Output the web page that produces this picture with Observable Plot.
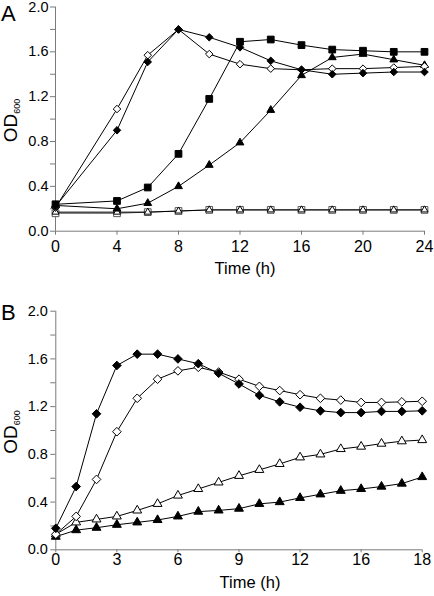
<!DOCTYPE html>
<html><head><meta charset="utf-8">
<script src="https://cdn.jsdelivr.net/npm/d3@7"></script>
<script src="https://cdn.jsdelivr.net/npm/@observablehq/plot@0.6"></script>
<style>
body{margin:0;background:#fff;}
#chart{position:relative;width:434px;height:596px;font-family:"Liberation Sans",Arial,sans-serif;}
#chart svg{position:absolute;left:0;}
</style></head><body><div id="chart"></div>
<script>
// ---------- Panel A data ----------
const timesA = [0, 4, 6, 8, 10, 12, 14, 16, 18, 20, 22, 24];
const aOpenDiamond   = [0.21, 1.09, 1.57, 1.80, 1.58, 1.49, 1.45, 1.44, 1.45, 1.45, 1.46, 1.47];
const aFilledDiamond = [0.22, 0.90, 1.51, 1.80, 1.73, 1.64, 1.52, 1.44, 1.40, 1.41, 1.42, 1.42];
const aFilledSquare  = [0.24, 0.27, 0.39, 0.69, 1.18, 1.69, 1.71, 1.66, 1.62, 1.61, 1.60, 1.60];
const aFilledTriangle= [0.23, 0.20, 0.25, 0.40, 0.59, 0.79, 1.08, 1.39, 1.55, 1.58, 1.53, 1.48];
const aOpenSquare    = [0.16, 0.16, 0.17, 0.18, 0.19, 0.19, 0.19, 0.19, 0.19, 0.19, 0.19, 0.19];
const aOpenTriangle  = [0.17, 0.17, 0.17, 0.18, 0.19, 0.19, 0.19, 0.19, 0.19, 0.19, 0.19, 0.19];
const aXTicks = [0, 4, 8, 12, 16, 20, 24];
const aXTickLabels = ["0", "4", "8", "12", "16", "20", "24"];

// ---------- Panel B data ----------
const timesB = [0,1,2,3,4,5,6,7,8,9,10,11,12,13,14,15,16,17,18];
const bFilledDiamond = [0.18,0.53,1.14,1.545,1.64,1.64,1.60,1.56,1.48,1.39,1.295,1.24,1.195,1.165,1.15,1.15,1.16,1.16,1.165];
const bOpenDiamond   = [0.13,0.28,0.59,0.99,1.27,1.43,1.50,1.53,1.49,1.43,1.37,1.335,1.30,1.27,1.255,1.235,1.235,1.24,1.245];
const bOpenTriangle  = [0.13,0.23,0.255,0.28,0.33,0.385,0.455,0.51,0.565,0.62,0.67,0.72,0.775,0.80,0.845,0.865,0.89,0.91,0.92];
const bFilledTriangle= [0.11,0.165,0.185,0.21,0.23,0.25,0.28,0.32,0.33,0.345,0.385,0.40,0.435,0.465,0.495,0.51,0.53,0.555,0.61];
const bXTicks = [0, 3, 6, 9, 12, 15, 18];
const bXTickLabels = ["0", "3", "6", "9", "12", "16", "18"];

// ---------- shared ----------
const yTicks = [0, 0.2, 0.4, 0.6, 0.8, 1.0, 1.2, 1.4, 1.6, 1.8, 2.0];
const yTickLabels = ["0.0", "", "0.4", "", "0.8", "", "1.2", "", "1.6", "", "2.0"];
const xLabel = "Time (h)";
const yLabelMain = "OD";
const yLabelSub = "600";
const FONT = '"Liberation Sans", Arial, sans-serif';
const AXIS = "#7a7a7a";

function rows(times, vals) { return times.map((t, i) => ({t, v: vals[i]})); }

function seriesMarks(times, vals, sym, r, open, stroke = "black") {
  const d = rows(times, vals);
  return [
    Plot.line(d, {x: "t", y: "v", stroke, strokeWidth: 1}),
    Plot.dot(d, {x: "t", y: "v", symbol: sym, r, fill: open ? "white" : "black", stroke, strokeWidth: 1})
  ];
}

function panel(cfg) {
  const svg = Plot.plot({
    width: 434, height: cfg.height,
    marginLeft: cfg.ml, marginRight: cfg.mr, marginTop: cfg.mt, marginBottom: cfg.mb,
    style: {fontFamily: FONT, background: "transparent", color: "black", overflow: "visible"},
    x: {domain: cfg.xDomain},
    y: {domain: [0, 2]},
    marks: [
      Plot.axisX({ticks: cfg.xTicks, tickFormat: d => cfg.xTickLabels[cfg.xTicks.indexOf(d)],
        tickSize: cfg.xTickSize, tickPadding: cfg.xTickPad, fontSize: 16, stroke: AXIS, fill: "black", label: null}),
      Plot.axisY({ticks: yTicks, tickFormat: d => yTickLabels[yTicks.indexOf(d)],
        tickSize: 5, tickPadding: cfg.yTickPad, fontSize: 14.5, stroke: AXIS, fill: "black", label: null}),
      Plot.ruleY([0], {stroke: AXIS}),
      Plot.ruleX([0], {y1: 0, y2: 2, stroke: AXIS}),
      ...cfg.series.flatMap(s => seriesMarks(s.times, s.vals, s.sym, s.r, s.open, s.stroke))
    ]
  });
  svg.style.top = cfg.top + "px";
  const s = d3.select(svg);
  s.append("text").attr("x", 1).attr("y", cfg.letterY).attr("text-anchor", "start")
    .attr("font-size", 22).attr("font-family", FONT).text(cfg.letter);
  const cy = (cfg.mt + (cfg.height - cfg.mb)) / 2;
  const yl = s.append("text").attr("transform", `translate(17,${cy + 2}) rotate(-90)`)
    .attr("text-anchor", "middle").attr("font-size", 19).attr("font-family", FONT);
  yl.append("tspan").text(yLabelMain);
  yl.append("tspan").attr("font-size", 9).attr("dy", 3).text(yLabelSub);
  s.append("text").attr("x", cfg.xLabelX).attr("y", cfg.xLabelY).attr("text-anchor", "middle")
    .attr("font-size", 16.5).attr("font-family", FONT).text(xLabel);
  document.getElementById("chart").appendChild(svg);
}

panel({
  top: 0, height: 290, ml: 55, mr: 10, mt: 6.5, mb: 59.3, xDomain: [0, 24],
  xTicks: aXTicks, xTickLabels: aXTickLabels, xTickSize: 4, xTickPad: 5, yTickPad: 2,
  letter: "A", letterY: 21, xLabelX: 245, xLabelY: 274,
  series: [
    {times: timesA, vals: aOpenSquare, sym: "square", r: 3.8, open: true, stroke: "#555"},
    {times: timesA, vals: aOpenTriangle, sym: "triangle", r: 2.6, open: true},
    {times: timesA, vals: aFilledTriangle, sym: "triangle", r: 2.9, open: false},
    {times: timesA, vals: aFilledSquare, sym: "square", r: 3.8, open: false},
    {times: timesA, vals: aOpenDiamond, sym: "diamond2", r: 3.4, open: true},
    {times: timesA, vals: aFilledDiamond, sym: "diamond2", r: 3.4, open: false}
  ]
});

panel({
  top: 296, height: 300, ml: 55.3, mr: 12.3, mt: 14.7, mb: 46.7, xDomain: [0, 18],
  xTicks: bXTicks, xTickLabels: bXTickLabels, xTickSize: 3, xTickPad: 1, yTickPad: 3,
  letter: "B", letterY: 24, xLabelX: 250, xLabelY: 292,
  series: [
    {times: timesB, vals: bFilledTriangle, sym: "triangle", r: 3.3, open: false},
    {times: timesB, vals: bOpenTriangle, sym: "triangle", r: 3.3, open: true},
    {times: timesB, vals: bOpenDiamond, sym: "diamond2", r: 3.9, open: true},
    {times: timesB, vals: bFilledDiamond, sym: "diamond2", r: 3.9, open: false}
  ]
});
</script></body></html>
